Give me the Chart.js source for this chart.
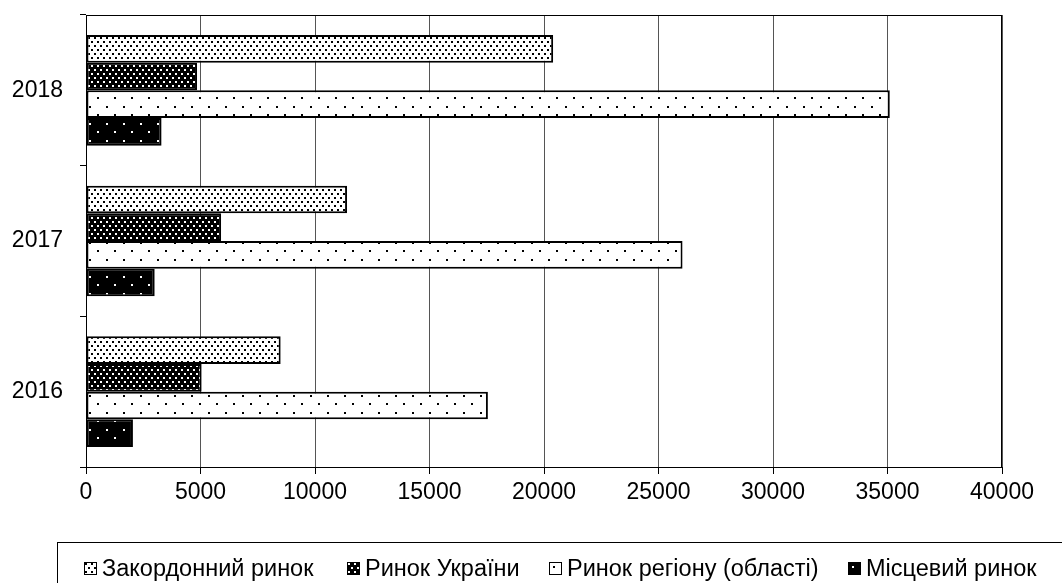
<!DOCTYPE html>
<html>
<head>
<meta charset="utf-8">
<script src="https://cdn.jsdelivr.net/npm/chart.js@4/dist/chart.umd.min.js"></script>
<style>
    body { margin: 0; background: #fff; overflow: hidden; }
    #wrap { position: relative; width: 1062px; height: 583px; }
    #legend {
        position: absolute; left: 57px; top: 542px; width: 1012px; height: 60px;
        border: 1px solid #000; box-sizing: border-box;
        font-family: "Liberation Sans", Arial, sans-serif; font-size: 23.5px; color: #000;
    }
    .item { position: absolute; top: 12px; display: flex; align-items: center; white-space: nowrap; }
    .item canvas { margin-right: 5px; }
</style>
</head>
<body>
<div id="wrap">
    <canvas id="chart" width="1062" height="583"></canvas>
    <div id="legend"></div>
</div>
<script>

/* DATOS */

const years = ['2018', '2017', '2016'];
const seriesNames = ['Закордонний ринок', 'Ринок України', 'Ринок регіону (області)', 'Місцевий ринок'];
const foreignMarket = [20400, 11400, 8500];
const ukraineMarket = [4850, 5900, 5050];
const regionMarket = [35100, 26050, 17550];
const localMarket = [3300, 3000, 2050];
const xTicks = [0, 5000, 10000, 15000, 20000, 25000, 30000, 35000, 40000];

/* PATRONES */

function crearPatron(w, h, fondo, punto, puntos){
    let c = document.createElement('canvas');
    c.width = w;
    c.height = h;
    let ctx = c.getContext('2d');
    ctx.fillStyle = fondo;
    ctx.fillRect(0, 0, w, h);
    ctx.fillStyle = punto;
    puntos.forEach(p => ctx.fillRect(p[0], p[1], 2, 2));
    return document.getElementById('chart').getContext('2d').createPattern(c, 'repeat');
}

const patronDenso = crearPatron(6, 8, '#fff', '#000', [[1, 1], [4, 5]]);
const patronDensoNegro = crearPatron(6, 8, '#000', '#fff', [[1, 1], [4, 5]]);
const patronRalo = crearPatron(17, 17, '#fff', '#000', [[4, 4], [12, 12]]);
const patronRaloNegro = crearPatron(17, 17, '#000', '#fff', [[4, 4], [12, 12]]);

const patrones = [patronDenso, patronDensoNegro, patronRalo, patronRaloNegro];
const valores = [foreignMarket, ukraineMarket, regionMarket, localMarket];

/* MARCO */

const marco = {
    id: 'marco',
    afterDatasetsDraw(chart){
        let a = chart.chartArea;
        let ctx = chart.ctx;
        ctx.save();
        ctx.strokeStyle = '#000';
        ctx.lineWidth = 1;
        ctx.strokeRect(Math.round(a.left) + 0.5, Math.round(a.top) + 0.5,
            Math.round(a.right - a.left) - 1, Math.round(a.bottom - a.top));
        ctx.restore();
    }
};

Chart.defaults.font.family = '"Liberation Sans", Arial, sans-serif';
Chart.defaults.font.size = 23;
Chart.defaults.color = '#000';

let chart = new Chart(document.getElementById('chart'), {
    type: 'bar',
    data: {
        labels: years,
        datasets: seriesNames.map((name, i) => ({
            label: name,
            data: valores[i],
            backgroundColor: patrones[i],
            borderColor: '#000',
            borderWidth: 2,
            borderSkipped: false,
            barPercentage: 1,
            categoryPercentage: 0.735
        }))
    },
    options: {
        indexAxis: 'y',
        responsive: false,
        animation: false,
        layout: { padding: { top: 15, right: 60, left: 0, bottom: 0 } },
        plugins: { legend: { display: false }, tooltip: { enabled: false } },
        scales: {
            x: {
                min: 0,
                max: 40000,
                afterBuildTicks: s => { s.ticks = xTicks.map(v => ({ value: v })); },
                ticks: { padding: 5, callback: v => String(v) },
                grid: { color: '#555', tickColor: '#000', tickLength: 7 },
                border: { color: '#000' },
                afterFit: s => { s.height = 116; s.paddingLeft = 0; s.paddingRight = 0; }
            },
            y: {
                grid: { offset: true, drawOnChartArea: false, tickLength: 6, tickColor: '#000' },
                border: { color: '#000' },
                ticks: { padding: 17 },
                afterFit: s => { s.width = 86; s.paddingTop = 0; s.paddingBottom = 0; }
            }
        }
    },
    plugins: [marco]
});

/* LEYENDA */

const posLeyenda = [26, 289, 491, 790];
let leyenda = document.getElementById('legend');

chart.data.datasets.forEach((ds, i) => {
    let item = document.createElement('div');
    item.className = 'item';
    item.style.left = posLeyenda[i] + 'px';
    let sw = document.createElement('canvas');
    sw.width = 13;
    sw.height = 13;
    let ctx = sw.getContext('2d');
    ctx.fillStyle = ds.backgroundColor;
    ctx.fillRect(0, 0, 13, 13);
    ctx.strokeStyle = '#000';
    ctx.lineWidth = 1;
    ctx.strokeRect(0.5, 0.5, 12, 12);
    item.appendChild(sw);
    let txt = document.createElement('span');
    txt.textContent = ds.label;
    item.appendChild(txt);
    leyenda.appendChild(item);
});

</script>
</body>
</html>
